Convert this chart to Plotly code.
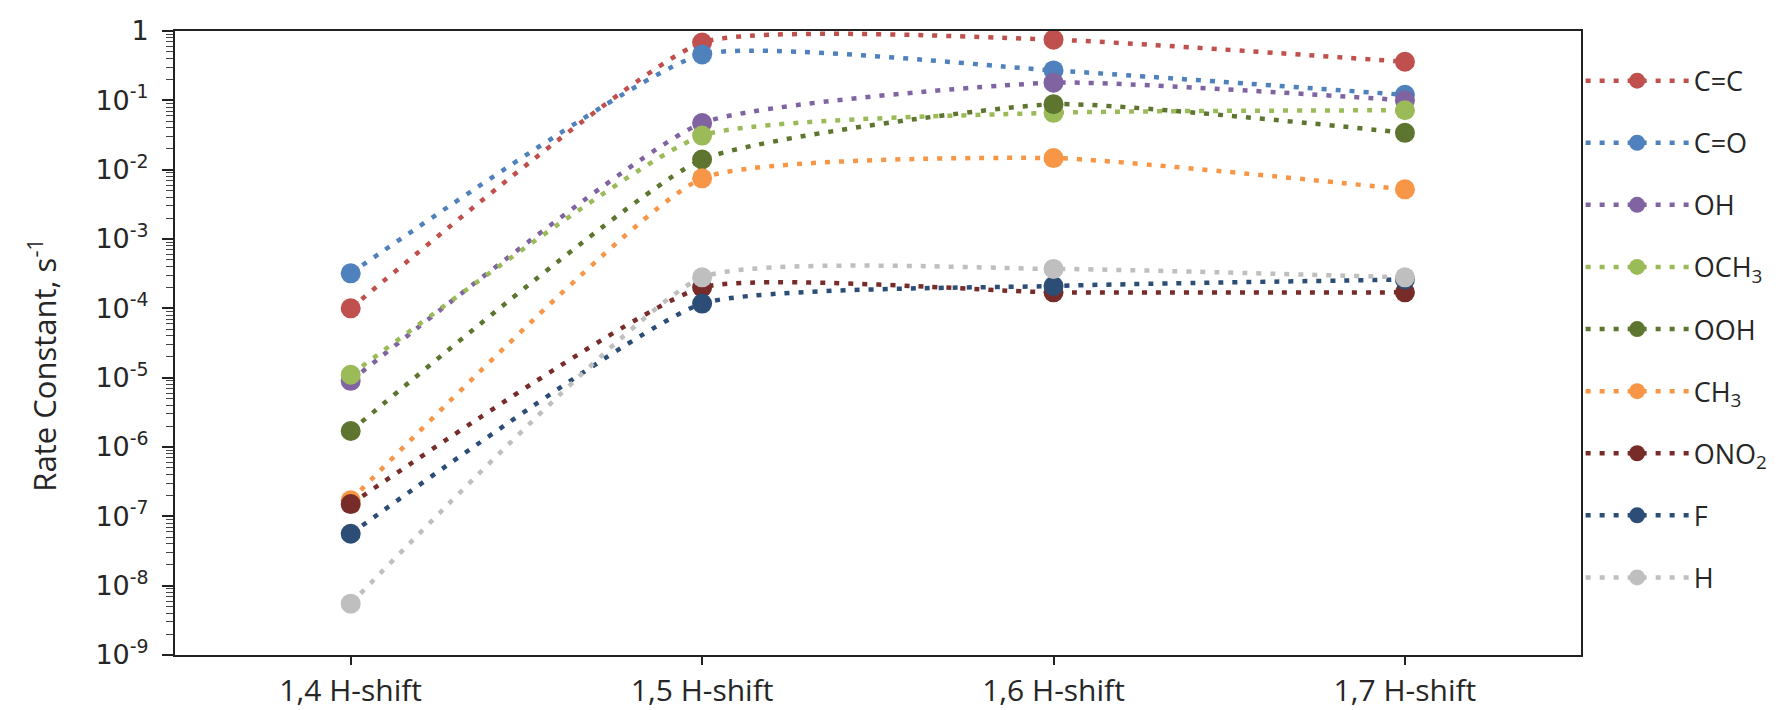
import plotly.graph_objects as go

categories = ["1,4 H-shift", "1,5 H-shift", "1,6 H-shift", "1,7 H-shift"]

series_names = ["C=C", "C=O", "OH", "OCH<sub>3</sub>", "OOH", "CH<sub>3</sub>",
                "ONO<sub>2</sub>", "F", "H"]

cc = [1.0e-4, 0.68, 0.75, 0.36]
co = [3.2e-4, 0.46, 0.27, 0.12]
oh = [9.0e-6, 0.047, 0.18, 0.10]
och3 = [1.1e-5, 0.031, 0.066, 0.072]
ooh = [1.7e-6, 0.014, 0.088, 0.034]
ch3 = [1.7e-7, 0.0075, 0.0147, 0.0052]
ono2 = [1.5e-7, 2.0e-4, 1.7e-4, 1.7e-4]
f_vals = [5.6e-8, 1.17e-4, 2.1e-4, 2.6e-4]
h_vals = [5.5e-9, 2.8e-4, 3.7e-4, 2.8e-4]

series_values = [cc, co, oh, och3, ooh, ch3, ono2, f_vals, h_vals]
colors = ["#C0504D", "#4F81BD", "#8064A2", "#9BBB59", "#5E7530", "#F79646",
          "#772C2A", "#2C4D75", "#BFBFBF"]

ytick_vals = [1, 1e-1, 1e-2, 1e-3, 1e-4, 1e-5, 1e-6, 1e-7, 1e-8, 1e-9]
ytick_text = ["1", "10<sup>-1</sup>", "10<sup>-2</sup>", "10<sup>-3</sup>", "10<sup>-4</sup>",
              "10<sup>-5</sup>", "10<sup>-6</sup>", "10<sup>-7</sup>", "10<sup>-8</sup>",
              "10<sup>-9</sup>"]
y_title = "Rate Constant, s<sup>-1</sup>"

fig = go.Figure()
for i, (name, vals, col) in enumerate(zip(series_names, series_values, colors)):
    fig.add_trace(go.Scatter(
        x=list(range(len(categories))), y=vals, name=name, mode="lines+markers",
        line=dict(color=col, width=4.5, dash="5px,9px", shape="spline", smoothing=0.45),
        marker=dict(color=col, size=20),
        legendgroup=f"g{i}",
    ))

fig.update_layout(
    width=1779, height=710,
    margin=dict(l=167, r=196, t=23, b=63),
    paper_bgcolor="white", plot_bgcolor="white",
    font=dict(family="Open Sans", color="#262626"),
    showlegend=True,
    legend=dict(xref="container", x=0.884, xanchor="left", y=0.959, yanchor="top",
                font=dict(size=27, color="#262626"), tracegroupgap=24,
                bgcolor="rgba(0,0,0,0)", itemwidth=103),
    annotations=[dict(
        text=y_title, textangle=-90, xref="paper", yref="paper",
        x=-0.0945, y=0.464, xanchor="center", yanchor="middle", showarrow=False,
        font=dict(size=31, family="Open Sans", color="#262626"),
    )],
)
fig.update_xaxes(
    range=[-0.5, 3.5], tickvals=list(range(len(categories))), ticktext=categories,
    showline=True, linecolor="#222", linewidth=2, mirror=True,
    ticks="outside", ticklen=8, tickcolor="#222", tickwidth=1.5,
    showgrid=False, zeroline=False, automargin=False,
    tickfont=dict(size=30, family="Open Sans", color="#262626"),
)
fig.update_yaxes(
    type="log", range=[-9, 0], tickvals=ytick_vals, ticktext=ytick_text,
    showline=True, linecolor="#222", linewidth=2, mirror=True,
    ticks="outside", ticklen=11, tickcolor="#222", tickwidth=1.5,
    minor=dict(ticks="outside", ticklen=7, tickcolor="#444", tickwidth=1, dtick="D1", showgrid=False),
    showgrid=False, zeroline=False, automargin=False,
    tickfont=dict(size=27, family="DejaVu Sans", color="#262626"),
    ticklabelstandoff=8,
)

fig.write_html("out.html")
